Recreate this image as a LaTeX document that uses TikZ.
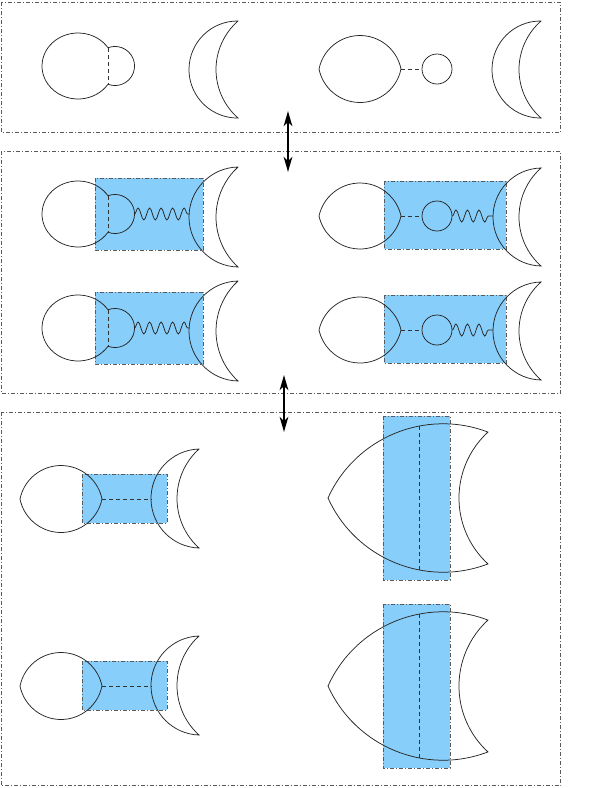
\documentclass[tikz,border=0pt]{standalone}
\usetikzlibrary{arrows.meta,decorations.pathmorphing}
\definecolor{boxblue}{HTML}{87CEFA}
\definecolor{framegray}{HTML}{5A5A5A}
\tikzset{
  panelframe/.style={draw=framegray, line width=0.8pt, dash pattern=on 4pt off 2pt on 1pt off 2pt},
  bluebox/.style={fill=boxblue, draw=framegray, line width=0.9pt, dash pattern=on 4pt off 2pt on 1pt off 2pt},
  shapeline/.style={draw=black!85, line width=0.75pt},
  bond/.style={draw=black!80, line width=0.75pt, dash pattern=on 4pt off 3pt},
  spring/.style={draw=black!85, line width=0.75pt, decorate, decoration={snake, segment length=11.5pt, amplitude=6pt}},
  updown/.style={line width=2.6pt, {Stealth[length=15pt,width=8.5pt,inset=4pt]}-{Stealth[length=15pt,width=8.5pt,inset=4pt]}},
}
% lens: xl, xr, cy, half-height
\newcommand\lensshape[4]{%
  \pgfmathsetmacro\lensa{(#2-#1)/2}%
  \pgfmathsetmacro\lensr{(\lensa*\lensa+#4*#4)/(2*#4)}%
  \pgfmathsetmacro\lenst{atan2(#4-\lensr,\lensa)}%
  \draw[shapeline] (#1,#3) arc[start angle={-180-(\lenst)}, end angle={\lenst}, radius=\lensr]
     arc[start angle={-(\lenst)}, end angle={180+(\lenst)}, radius=\lensr] -- cycle;}
% crescent: tip x, cy, half-height, outer sag, inner sag
\newcommand\crescentshape[5]{%
  \pgfmathsetmacro\cro{(#3*#3+#4*#4)/(2*#4)}%
  \pgfmathsetmacro\cao{atan2(-#3,#4-\cro)}%
  \pgfmathsetmacro\cri{(#3*#3+#5*#5)/(2*#5)}%
  \pgfmathsetmacro\cai{atan2(#3,#5-\cri)}%
  \draw[shapeline] (#1,#2-#3) arc[start angle=\cao, end angle={-360-(\cao)}, radius=\cro]
     arc[start angle=\cai, end angle={360-(\cai)}, radius=\cri] -- cycle;}
% big circle + small circle joined at x=108 : cy
\newcommand\dimershape[1]{%
  \draw[shapeline] (108,#1-18.24) arc[start angle=-33.56, end angle=-326.44, x radius=36, y radius=33]
     arc[start angle=111.0, end angle=-111.0, radius=19.54] -- cycle;
  \draw[bond] (108,#1-18.24) -- (108,#1+18.24);}
% large fish-like shape : cy
\newcommand\fishshape[1]{%
  \draw[shapeline] (328,#1) arc[start angle=-155.67, end angle=-69.12, radius=126.21]
     arc[start angle=227.50, end angle=132.50, radius=89.42]
     arc[start angle=69.12, end angle=155.67, radius=126.21] -- cycle;}
\begin{document}
\begin{tikzpicture}[x=1pt,y=1pt,yscale=-1]
\useasboundingbox (0,0) rectangle (597,788);
% panels
\draw[panelframe] (1,2) rectangle (560.5,132);
\draw[panelframe] (1,151) rectangle (560.5,393);
\draw[panelframe] (1,412) rectangle (560.5,785.5);
% arrows between panels
\coordinate (p1top) at (288,111);
\coordinate (p1bot) at (288,172);
\coordinate (p2top) at (284,375);
\coordinate (p2bot) at (284,432);
\draw[updown] (p1top) -- (p1bot);
\draw[updown] (p2top) -- (p2bot);
% ---------- panel 1 ----------
\dimershape{66}
\crescentshape{238}{69.5}{48.5}{49}{22}
\lensshape{319}{401}{69}{33.5}
\coordinate (la) at (401,69);
\node[circle, draw=black!85, line width=0.75pt, minimum size=30pt, inner sep=0pt] (sa) at (437,69) {};
\draw[bond] (la) -- (sa.west);
\crescentshape{541}{69.5}{48.5}{49}{22}
% ---------- panel 2 ----------
\foreach \dy in {0,114}{
  \fill[bluebox] (95,178+\dy) rectangle (203,250+\dy);
  \fill[bluebox] (384,181+\dy) rectangle (506,249+\dy);
  \dimershape{214+\dy}
  \coordinate (ws) at (134.5,214+\dy);
  \coordinate (we) at (189.5,214+\dy);
  \draw[spring] (ws) -- (we);
  \crescentshape{238}{217+\dy}{50}{49}{22}
  \lensshape{319}{401}{216+\dy}{33}
  \coordinate (lb) at (401,216+\dy);
  \node[circle, draw=black!85, line width=0.75pt, minimum size=30pt, inner sep=0pt] (sb) at (437,216+\dy) {};
  \draw[bond] (lb) -- (sb.west);
  \coordinate (wr) at (493,216+\dy);
  \draw[spring] (sb.east) -- (wr);
  \crescentshape{541}{217+\dy}{49}{48}{22}
}
% ---------- panel 3 ----------
\foreach \cy/\cr in {499/498, 686/686}{
  \fill[bluebox] (82,\cy-25) rectangle (167,\cy+24);
  \fill[bluebox] (383,\cr-82) rectangle (450,\cr+82);
  \lensshape{20}{102}{\cy}{33.5}
  \coordinate (lc) at (102,\cy);
  \coordinate (cc) at (152,\cy);
  \draw[bond] (lc) -- (cc);
  \crescentshape{199}{\cy-0.5}{49.5}{48}{22}
  \fishshape{\cr}
  \coordinate (ft) at (419,\cr-71.9);
  \coordinate (fb) at (419,\cr+71.9);
  \draw[bond] (ft) -- (fb);
}
\end{tikzpicture}
\end{document}
